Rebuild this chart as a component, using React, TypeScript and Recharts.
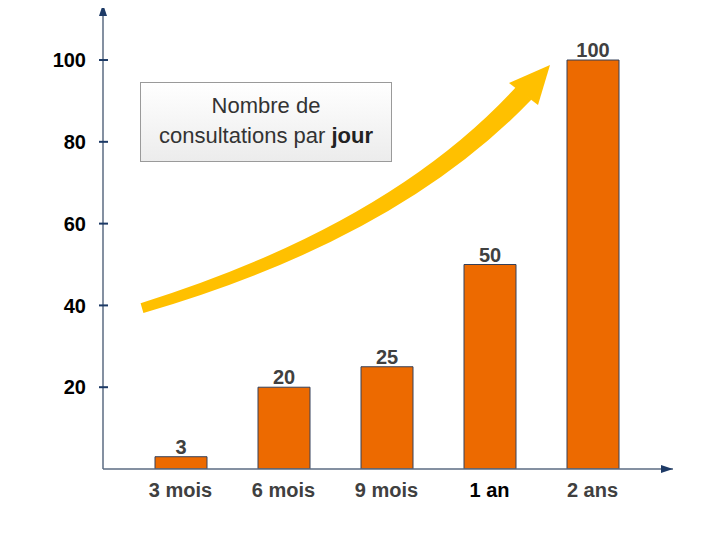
import React from 'react';
import { BarChart, Bar, XAxis, YAxis, LabelList } from 'recharts';

const periods = ['3 mois', '6 mois', '9 mois', '1 an', '2 ans'];
const consultations = [3, 20, 25, 50, 100];
const yTicks = [20, 40, 60, 80, 100];

const data = periods.map((p, i) => ({ periode: p, valeur: consultations[i] }));

const FONT = '"Liberation Sans", Arial, sans-serif';
const AXIS = '#5b6b82';
const NAVY = '#1d3a66';

const XTick = (props: any) => {
  const { x, y, payload } = props;
  const strong = payload.value === '1 an';
  return (
    <text x={x} y={y} dy="0.71em" textAnchor="middle" fontFamily={FONT} fontSize={20}
      fontWeight="bold" fill={strong ? '#000' : '#404040'}>
      {payload.value}
    </text>
  );
};

const YTick = (props: any) => {
  const { x, y, payload } = props;
  const axisX = x + 17;
  return (
    <g>
      <line x1={axisX - 4} x2={axisX + 5} y1={y} y2={y} stroke={NAVY} strokeWidth={2} />
      <text x={x} y={y} dy="0.355em" textAnchor="end" fontFamily={FONT} fontSize={20}
        fontWeight="bold" fill="#000">
        {payload.value}
      </text>
    </g>
  );
};

export default function App() {
  return (
    <div style={{ position: 'relative', width: 728, height: 541, margin: -8, background: '#fff' }}>
      <svg width={0} height={0} style={{ position: 'absolute' }}>
        <defs>
          <marker id="axisArrow" viewBox="0 0 12 8" refX={12} refY={4} markerWidth={12} markerHeight={8}
            markerUnits="userSpaceOnUse" orient="auto-start-reverse">
            <path d="M0,0 L12,4 L0,8 Z" fill={NAVY} />
          </marker>
        </defs>
      </svg>
      <BarChart width={728} height={541} data={data}
        margin={{ top: 4, right: 55, left: 0, bottom: 0 }}>
        <XAxis dataKey="periode" height={72} tick={<XTick />} tickLine={false} tickSize={0} tickMargin={14}
          padding={{ left: 26, right: 29 }}
          axisLine={{ stroke: AXIS, strokeWidth: 1.5, markerEnd: 'url(#axisArrow)' }} />
        <YAxis width={103} domain={[0, 113.7]} ticks={yTicks} type="number" allowDataOverflow
          tick={<YTick />} tickLine={false} tickSize={0} tickMargin={17}
          axisLine={{ stroke: AXIS, strokeWidth: 1.5, markerStart: 'url(#axisArrow)' }} />
        <Bar dataKey="valeur" fill="#ED6A00" stroke="#34405a" strokeWidth={1} barSize={52}
          isAnimationActive={false}>
          <LabelList dataKey="valeur" position="top" offset={3} fill="#404040" fontFamily={FONT}
            fontSize={20} fontWeight="bold" />
        </Bar>
      </BarChart>
      <svg width={728} height={541} style={{ position: 'absolute', left: 0, top: 0, pointerEvents: 'none' }}>
        <path d="M140.6,303.2 Q390,225 516.5,86.5 L531.5,99.5 Q398,239 143.4,313 Z" fill="#FFC000" />
        <path d="M509,83 L550,65 L538,105 Z" fill="#FFC000" />
      </svg>
      <div style={{
        position: 'absolute', left: 140, top: 82, width: 252, height: 80, boxSizing: 'border-box',
        border: '1px solid #9a9a9a', background: 'linear-gradient(#ffffff, #ececec)',
        fontFamily: FONT, fontSize: 22, color: '#333', textAlign: 'center', lineHeight: '30px',
        paddingTop: 8,
      }}>
        Nombre de<br />consultations par <b style={{ color: '#222' }}>jour</b>
      </div>
    </div>
  );
}
